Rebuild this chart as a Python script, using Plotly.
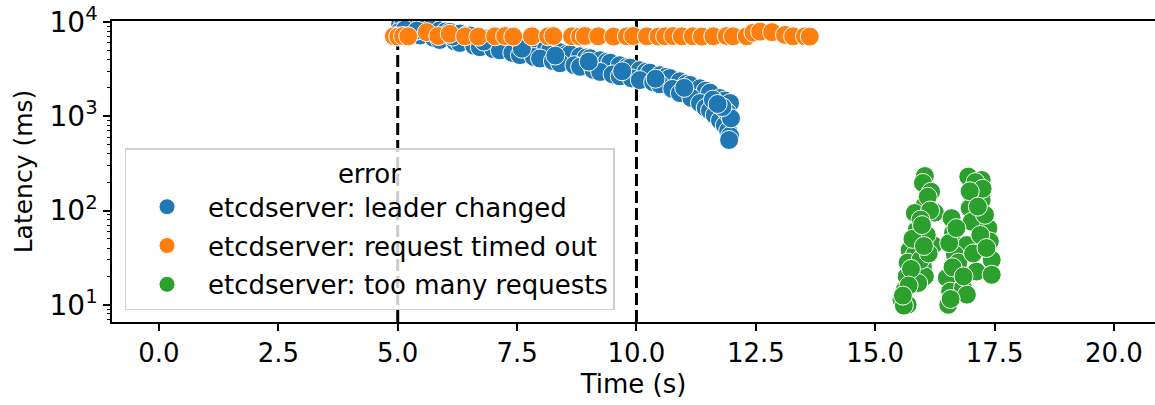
import plotly.graph_objects as go

# ---- data ----
leader_x = [5.05, 5.12, 5.20, 5.30, 5.47, 5.60, 5.68, 5.88, 6.00, 6.09, 6.30, 6.45, 6.51, 6.72, 6.85, 6.93,
            7.14, 7.30, 7.35, 7.56, 7.70, 7.77, 7.98, 8.10, 8.19, 8.40, 8.55, 8.61, 8.82, 8.95, 9.03, 9.24,
            9.38, 9.45, 9.65, 9.80, 9.86, 10.07, 10.20, 10.28, 10.49, 10.62, 10.70, 10.91, 11.05, 11.12, 11.33,
            11.45, 11.54, 11.75, 11.85, 11.96,
            5.02, 5.15, 5.47, 5.75, 5.88, 6.20, 6.30, 6.60, 6.72, 7.00, 7.14, 7.40, 7.56, 7.85, 7.98, 8.25,
            8.40, 8.70, 8.82, 9.10, 9.24, 9.50, 9.65, 9.90, 10.07, 10.35, 10.49, 10.75, 10.91, 11.15, 11.33,
            11.45, 11.54, 11.64, 11.75, 11.85, 11.92, 11.96, 11.94,
            5.40, 6.15, 6.80, 7.60, 8.30, 9.00, 9.70, 10.40, 11.00, 11.60, 11.90, 11.98, 11.80, 11.70]
leader_y = [9450, 9800, 9200, 9000, 8800, 8600, 8450, 8150, 7950, 7850, 7550, 7300, 7200, 6900, 6700, 6650,
            6400, 6150, 6100, 5800, 5600, 5500, 5250, 5100, 5000, 4780, 4600, 4550, 4330, 4200, 4130, 3930,
            3780, 3700, 3480, 3330, 3280, 3080, 2960, 2900, 2730, 2620, 2540, 2350, 2220, 2150, 1980,
            1870, 1780, 1560, 1470, 1380,
            7800, 8300, 7200, 6800, 6450, 6200, 6000, 5600, 5400, 5150, 5000, 4700, 4450, 4250, 4100, 3850,
            3650, 3480, 3350, 3100, 2950, 2780, 2650, 2520, 2420, 2300, 2180, 1950, 1760, 1560, 1380,
            1230, 1150, 1030, 900, 800, 700, 620, 560,
            8100, 7000, 6200, 5200, 4400, 3800, 3000, 2500, 2000, 1500, 1100, 950, 1250, 1350]

timeout_x = [4.92, 5.01, 5.11, 5.22, 5.61, 5.85, 6.09, 6.41, 6.69, 7.04, 7.25, 7.42, 7.81, 8.15, 8.26,
             8.65, 8.82, 8.92, 9.20, 9.52, 9.80, 9.93, 10.22, 10.46, 10.60, 10.77, 10.95, 11.18, 11.37,
             11.61, 11.89, 12.02, 12.31, 12.45, 12.59, 12.84, 13.11, 13.28, 13.53, 13.63]
timeout_y = [7050, 7000, 7100, 7050, 7800, 7100, 7500, 7050, 7000, 7050, 7100, 7000, 7050, 7050, 7100,
             7050, 7000, 7100, 7050, 7000, 7050, 7100, 7050, 7000, 7050, 7100, 7050, 7050, 7000,
             7050, 7100, 7050, 7050, 7700, 7900, 7800, 7300, 7050, 7050, 7000]

toomany_x = [16.04, 16.00, 16.17, 16.04, 15.83, 16.25, 15.87, 15.90, 16.21, 15.72, 15.83, 15.68, 16.00,
             15.66, 16.04, 15.90, 15.62, 15.55, 15.68, 15.60, 16.10, 16.15, 15.95, 16.08, 15.78, 15.95,
             15.75, 16.12, 15.70, 15.58, 15.98, 16.02,
             16.95, 17.23, 17.02, 17.23, 16.98, 17.02, 17.37, 16.60, 16.63, 16.92, 17.40, 16.67, 16.74,
             17.44, 17.12, 17.44, 16.50, 16.57, 16.84, 16.53, 16.92, 17.10, 17.25, 16.98, 17.30, 17.15,
             16.55, 16.62, 17.20, 17.05, 16.70, 17.33, 16.85, 16.58]
toomany_y = [232, 196, 158, 115, 94, 95, 62, 47, 43, 38, 34, 28, 25,
             20, 20, 17, 14.4, 11.3, 10, 9.8, 140, 100, 80, 55, 50, 30,
             24, 35, 16, 12.5, 70, 42,
             229, 211, 146, 129, 106, 76, 65, 83, 58, 43, 47, 34, 28,
             30, 22.5, 20.8, 19.3, 13.8, 15.1, 10, 12.8, 200, 170, 160, 90, 110,
             45, 25, 55, 35, 65, 40, 20, 11.5]

series_names = ["etcdserver: leader changed", "etcdserver: request timed out", "etcdserver: too many requests"]
series_colors = ["#1f77b4", "#ff7f0e", "#2ca02c"]
vlines_x = [5, 10]
x_ticks = [0, 2.5, 5, 7.5, 10, 12.5, 15, 17.5, 20]
x_tick_labels = ["0.0", "2.5", "5.0", "7.5", "10.0", "12.5", "15.0", "17.5", "20.0"]
y_ticks = [10, 100, 1000, 10000]
y_tick_labels = ["10<sup>1</sup>", "10<sup>2</sup>", "10<sup>3</sup>", "10<sup>4</sup>"]
y_minor_ticks = [7, 8, 9, 20, 30, 40, 50, 60, 70, 80, 90, 200, 300, 400, 500, 600, 700, 800, 900,
                 2000, 3000, 4000, 5000, 6000, 7000, 8000, 9000]

FONT = "DejaVu Sans"
Y_RANGE = [0.817, 4.0106]

fig = go.Figure()
for i, (name, color, xs, ys) in enumerate(zip(series_names, series_colors,
                                              [leader_x, timeout_x, toomany_x],
                                              [leader_y, timeout_y, toomany_y])):
    fig.add_trace(go.Scatter(
        x=xs, y=ys, mode="markers", name=name, legendgroup=f"g{i}",
        marker=dict(color=color, size=19, line=dict(color="white", width=1)),
    ))

# empty helper trace so the minor-tick axis is drawn
fig.add_trace(go.Scatter(x=[], y=[], yaxis="y2", showlegend=False, hoverinfo="skip"))

for xv in vlines_x:
    fig.add_shape(type="line", x0=xv, x1=xv, y0=0, y1=1, xref="x", yref="paper",
                  line=dict(color="black", width=3, dash="12px,5px"), layer="below")

fig.update_layout(
    width=1155, height=405,
    margin=dict(l=112, r=0, t=21, b=83),
    paper_bgcolor="white", plot_bgcolor="white",
    font=dict(family=FONT, size=26, color="black"),
    showlegend=True,
    legend=dict(
        x=0.012, y=0.578, xanchor="left", yanchor="top",
        bgcolor="rgba(255,255,255,0.8)", bordercolor="#d0d0d0", borderwidth=1.5,
        title=dict(text="error", side="top center", font=dict(size=26, family=FONT, color="black")),
        font=dict(size=26, family=FONT, color="black"), itemwidth=72,
        tracegroupgap=2,
    ),
    xaxis=dict(
        range=[-0.984, 20.86], showgrid=False, zeroline=False,
        showline=True, linecolor="black", linewidth=1.6, mirror=True,
        ticks="outside", ticklen=7, tickwidth=1.6, tickcolor="black",
        tickmode="array", tickvals=x_ticks, ticktext=x_tick_labels,
        tickfont=dict(size=26, family=FONT, color="black"),
        title=dict(text="Time (s)", standoff=8, font=dict(size=26, family=FONT, color="black")),
    ),
    yaxis=dict(
        type="log", range=Y_RANGE, showgrid=False, zeroline=False,
        showline=True, linecolor="black", linewidth=1.6,
        ticks="outside", ticklen=7, tickwidth=1.6, tickcolor="black",
        tickmode="array", tickvals=y_ticks, ticktext=y_tick_labels,
        tickfont=dict(size=28, family=FONT, color="black"), ticklabeloverflow="allow",
        title=dict(text="Latency (ms)", standoff=10, font=dict(size=25, family=FONT, color="black")),
    ),
    yaxis2=dict(
        type="log", range=Y_RANGE, overlaying="y", side="left", showgrid=False, zeroline=False,
        showline=False, ticks="outside", ticklen=4, tickwidth=1.2, tickcolor="black",
        tickmode="array", tickvals=y_minor_ticks, showticklabels=False,
    ),
)

fig.write_html("out.html", post_script="document.body.style.margin='0';",
               config={"displayModeBar": False})
